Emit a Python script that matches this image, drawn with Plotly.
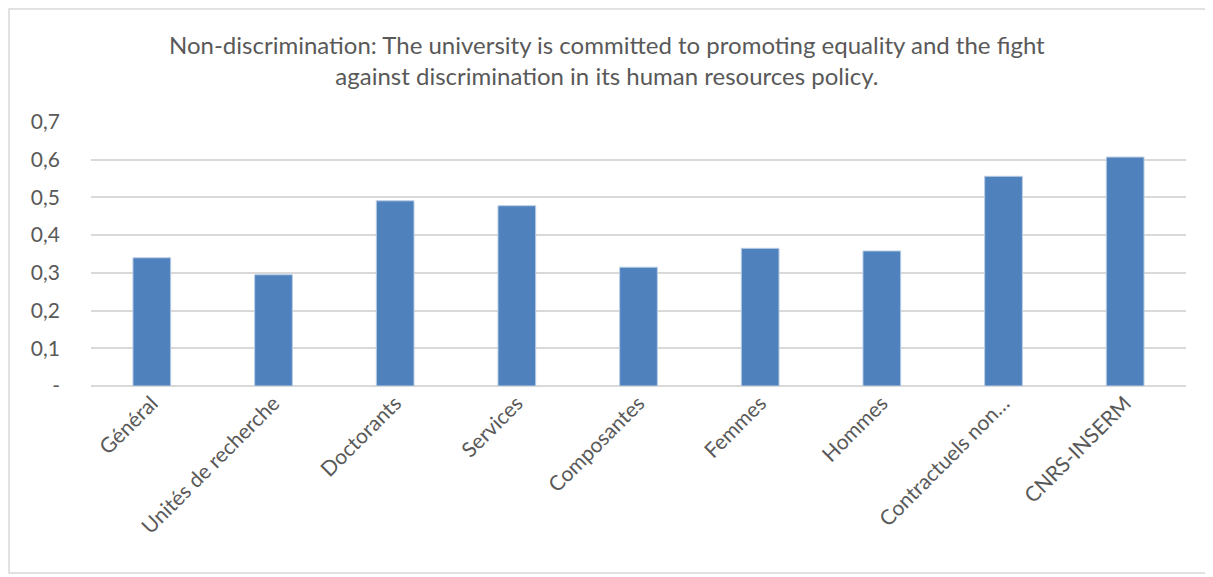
import plotly.graph_objects as go

categories = ["Général", "Unités de recherche", "Doctorants", "Services", "Composantes",
              "Femmes", "Hommes", "Contractuels non…", "CNRS-INSERM"]
values = [0.340, 0.295, 0.491, 0.478, 0.315, 0.365, 0.358, 0.556, 0.607]
tick_vals = [0, 0.1, 0.2, 0.3, 0.4, 0.5, 0.6, 0.7]
tick_text = ["-", "0,1", "0,2", "0,3", "0,4", "0,5", "0,6", "0,7"]

OFF = 8  # browser body margin
W, H = 1213 - OFF, 577 - OFF
L, R, T, B = 91 - OFF, 27, 122 - OFF, 191
PW, PH = W - L - R, H - T - B
FONT = "Lato, 'Open Sans', sans-serif"

fig = go.Figure(go.Bar(
    x=categories, y=values,
    marker=dict(color="#4f81bd", line=dict(color="#b9cde5", width=1)),
))

fig.update_layout(
    width=W, height=H,
    margin=dict(l=L, r=R, t=T, b=B),
    plot_bgcolor="white", paper_bgcolor="white",
    bargap=0.69,
    showlegend=False,
    font=dict(family=FONT, color="#595959", size=21),
    xaxis=dict(tickangle=-45, showgrid=False, showline=False, ticks="",
               tickfont=dict(size=21, color="#595959")),
    yaxis=dict(range=[0, 0.7], tickvals=tick_vals, ticktext=tick_text,
               showgrid=True, gridcolor="#d9d9d9", gridwidth=1.5,
               zeroline=True, zerolinecolor="#d9d9d9", zerolinewidth=1.5,
               ticks="", ticklabelstandoff=30,
               tickfont=dict(size=21, color="#595959")),
    annotations=[dict(
        text="Non-discrimination: The university is committed to promoting equality and the fight<br>against discrimination in its human resources policy.",
        xref="paper", yref="paper",
        x=(1213 / 2 - OFF - L) / PW, y=1 + (T - 52) / PH,
        xanchor="center", yanchor="middle", showarrow=False,
        font=dict(size=24, color="#595959", family=FONT),
    )],
    shapes=[dict(type="rect", xref="paper", yref="paper",
                 x0=(1 - L) / PW, x1=(W - 3 - L) / PW,
                 y0=-(B - 4) / PH, y1=1 + (T - 1) / PH,
                 line=dict(color="#d9d9d9", width=1.5), fillcolor="rgba(0,0,0,0)", layer="below")],
)

fig.write_html("out.html")
